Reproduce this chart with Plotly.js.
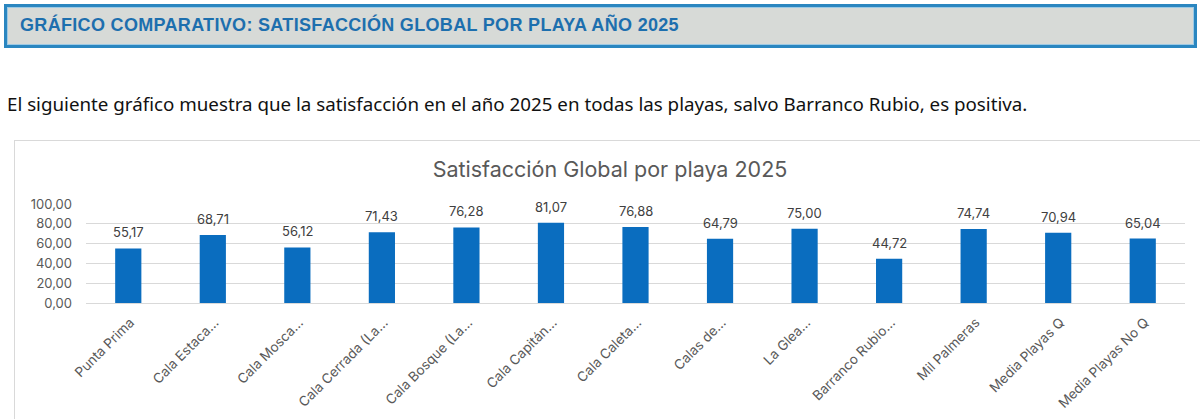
<!DOCTYPE html>
<html>
<head>
<meta charset="utf-8">
<script src="https://cdn.plot.ly/plotly-3.0.1.min.js"></script>
<style>
  html, body { margin: 0; padding: 0; width: 1200px; height: 419px; overflow: hidden; background: #ffffff; }
  .header {
    position: absolute; left: 4px; top: 4px; width: 1187px; height: 38px;
    background: #d7dad7; border: 3px solid #2a86c0;
    box-shadow: inset 0 0 0 1px #9cc9e4;
  }
  .header span {
    position: absolute; left: 13px; top: 8px;
    font-family: "Liberation Sans", Arial, sans-serif; font-weight: bold; font-size: 18px;
    color: #1d6fae; letter-spacing: 0.32px; white-space: nowrap;
  }
  .intro {
    position: absolute; left: 7px; top: 91px;
    font-family: "Noto Sans", sans-serif; font-size: 18.75px; color: #111111; white-space: nowrap;
  }
  #chart {
    position: absolute; left: 14px; top: 140px; width: 1200px; height: 300px;
    border: 1px solid #d9d9d9;
  }
</style>
</head>
<body>
<div class="header"><span>GRÁFICO COMPARATIVO: SATISFACCIÓN GLOBAL POR PLAYA AÑO 2025</span></div>
<div class="intro">El siguiente gráfico muestra que la satisfacción en el año 2025 en todas las playas, salvo Barranco Rubio, es positiva.</div>
<div id="chart"></div>
<script>
// Beach names as shown on the category axis
const playas = [
  "Punta Prima", "Cala Estaca...", "Cala Mosca...", "Cala Cerrada (La...",
  "Cala Bosque (La...", "Cala Capitán...", "Cala Caleta...", "Calas de...",
  "La Glea...", "Barranco Rubio...", "Mil Palmeras", "Media Playas Q",
  "Media Playas No Q"
];
// Global satisfaction score per beach, 2025
const satisfaccion = [55.17, 68.71, 56.12, 71.43, 76.28, 81.07, 76.88, 64.79, 75.00, 44.72, 74.74, 70.94, 65.04];
const yTicks = [0, 20, 40, 60, 80, 100];

const fontFam = "Inter, 'Noto Sans', sans-serif";

const trace = {
  type: "bar",
  x: playas,
  y: satisfaccion,
  marker: { color: "#0a6dbf" },
  hoverinfo: "skip"
};

// Value labels above each bar
const valueLabels = playas.map((p, i) => ({
  x: p, y: satisfaccion[i], xref: "x", yref: "y",
  text: satisfaccion[i].toFixed(2).replace(".", ","),
  showarrow: false, yanchor: "middle", yshift: 16,
  font: { family: fontFam, size: 13, color: "#404040" }
}));

const layout = {
  width: 1200, height: 300,
  margin: { l: 71, r: 30, t: 62.5, b: 137.5 },
  paper_bgcolor: "#ffffff", plot_bgcolor: "#ffffff",
  separators: ",.",
  showlegend: false,
  bargap: 0.69,
  title: {
    text: "Satisfacción Global por playa 2025",
    x: 595 / 1200, xref: "container", xanchor: "center",
    y: 1 - 28 / 300, yref: "container", yanchor: "middle",
    font: { family: fontFam, size: 21.5, color: "#595959" }
  },
  xaxis: {
    type: "category",
    tickangle: -45,
    tickfont: { family: fontFam, size: 13.5, color: "#595959" },
    showgrid: false, zeroline: false,
    showline: false, ticks: "",
    ticklabelshift: 2,
    ticklabelstandoff: 8,
    automargin: false
  },
  yaxis: {
    range: [0, 100],
    tickvals: yTicks,
    tickformat: ".2f",
    tickfont: { family: fontFam, size: 13, color: "#595959" },
    gridcolor: "#d9d9d9", gridwidth: 1,
    zeroline: true, zerolinecolor: "#d9d9d9", zerolinewidth: 1,
    showline: false, ticks: "",
    ticklabelstandoff: 13,
    automargin: false
  },
  annotations: valueLabels
};

Plotly.newPlot("chart", [trace], layout, { displayModeBar: false, staticPlot: true });
</script>
</body>
</html>
